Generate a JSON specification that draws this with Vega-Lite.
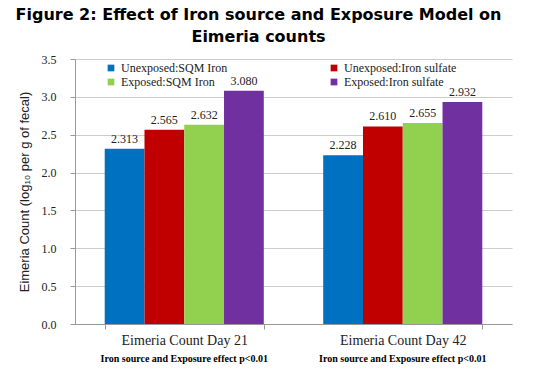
{
  "$schema": "https://vega.github.io/schema/vega-lite/v6.json",
  "width": 437,
  "height": 265,
  "autosize": {"type": "none"},
  "padding": {"left": 75, "top": 59, "right": 22, "bottom": 55},
  "background": "white",
  "title": {
    "text": ["Figure 2: Effect of Iron source and Exposure Model on", "Eimeria counts"],
    "font": "DejaVu Sans",
    "fontSize": 16,
    "fontWeight": "bold",
    "color": "black",
    "anchor": "middle",
    "frame": "group",
    "dx": -35,
    "offset": 8,
    "lineHeight": 22
  },
  "data": {
    "values": [
      {"period": "Eimeria Count Day 21", "group": "Unexposed:SQM Iron", "value": 2.313},
      {"period": "Eimeria Count Day 21", "group": "Unexposed:Iron sulfate", "value": 2.565},
      {"period": "Eimeria Count Day 21", "group": "Exposed:SQM Iron", "value": 2.632},
      {"period": "Eimeria Count Day 21", "group": "Exposed:Iron sulfate", "value": 3.080},
      {"period": "Eimeria Count Day 42", "group": "Unexposed:SQM Iron", "value": 2.228},
      {"period": "Eimeria Count Day 42", "group": "Unexposed:Iron sulfate", "value": 2.610},
      {"period": "Eimeria Count Day 42", "group": "Exposed:SQM Iron", "value": 2.655},
      {"period": "Eimeria Count Day 42", "group": "Exposed:Iron sulfate", "value": 2.932}
    ]
  },
  "config": {"view": {"stroke": null}},
  "layer": [
    {
      "mark": {"type": "bar"},
      "encoding": {
        "x": {
          "field": "period",
          "type": "nominal",
          "sort": ["Eimeria Count Day 21", "Eimeria Count Day 42"],
          "scale": {"paddingInner": 0.272, "paddingOuter": 0.136},
          "axis": {
            "title": null,
            "labelAngle": 0,
            "labelFont": "Liberation Serif",
            "labelFontSize": 14,
            "labelColor": "#222222",
            "tickSize": 5,
            "tickColor": "#999999",
            "domainColor": "#999999",
            "labelPadding": 4,
            "tickBand": "extent",
            "grid": false
          }
        },
        "xOffset": {
          "field": "group",
          "type": "nominal",
          "sort": ["Unexposed:SQM Iron", "Unexposed:Iron sulfate", "Exposed:SQM Iron", "Exposed:Iron sulfate"],
          "scale": {"paddingInner": 0, "paddingOuter": 0}
        },
        "y": {
          "field": "value",
          "type": "quantitative",
          "scale": {"domain": [0, 3.5], "nice": false},
          "axis": {
            "values": [0, 0.5, 1, 1.5, 2, 2.5, 3, 3.5],
            "format": ".1f",
            "labelOverlap": false,
            "labelFont": "Liberation Serif",
            "labelFontSize": 12,
            "labelColor": "#222222",
            "tickSize": 5,
            "tickColor": "#999999",
            "domainColor": "#999999",
            "gridColor": "#cccccc",
            "labelPadding": 14,
            "title": "Eimeria Count (log₁₀ per g of fecal)",
            "titleFont": "Liberation Sans",
            "titleFontSize": 13,
            "titleFontWeight": "normal",
            "titleColor": "#222222",
            "titlePadding": 10
          }
        },
        "color": {
          "field": "group",
          "type": "nominal",
          "sort": ["Unexposed:SQM Iron", "Unexposed:Iron sulfate", "Exposed:SQM Iron", "Exposed:Iron sulfate"],
          "scale": {
            "domain": ["Unexposed:SQM Iron", "Unexposed:Iron sulfate", "Exposed:SQM Iron", "Exposed:Iron sulfate"],
            "range": ["#0070C0", "#C00000", "#92D050", "#7030A0"]
          },
          "legend": {
            "title": null,
            "orient": "none",
            "legendX": 30,
            "legendY": 3,
            "direction": "horizontal",
            "columns": 2,
            "columnPadding": 100,
            "rowPadding": 2,
            "padding": 0,
            "symbolType": "square",
            "symbolSize": 45,
            "symbolStrokeWidth": 0,
            "labelFont": "Liberation Serif",
            "labelFontSize": 12,
            "labelColor": "#222222",
            "labelOffset": 4
          }
        }
      }
    },
    {
      "mark": {"type": "text", "baseline": "bottom", "dy": -3, "font": "Liberation Serif", "fontSize": 12, "color": "#222222"},
      "encoding": {
        "x": {
          "field": "period",
          "type": "nominal",
          "sort": ["Eimeria Count Day 21", "Eimeria Count Day 42"],
          "axis": {
            "orient": "bottom",
            "title": null,
            "labelAngle": 0,
            "labelExpr": "'Iron source and Exposure effect p<0.01'",
            "labelFont": "Liberation Serif",
            "labelFontWeight": "bold",
            "labelFontSize": 10,
            "labelColor": "black",
            "labelPadding": 29,
            "ticks": false,
            "domain": false,
            "grid": false
          }
        },
        "xOffset": {
          "field": "group",
          "type": "nominal",
          "sort": ["Unexposed:SQM Iron", "Unexposed:Iron sulfate", "Exposed:SQM Iron", "Exposed:Iron sulfate"]
        },
        "y": {
          "field": "value",
          "type": "quantitative",
          "axis": {
            "values": [0, 0.5, 1, 1.5, 2, 2.5, 3, 3.5],
            "format": ".1f",
            "labelOverlap": false,
            "labelFont": "Liberation Serif",
            "labelFontSize": 12,
            "labelColor": "#222222",
            "tickSize": 5,
            "tickColor": "#999999",
            "domainColor": "#999999",
            "gridColor": "#cccccc",
            "labelPadding": 14,
            "title": "Eimeria Count (log₁₀ per g of fecal)",
            "titleFont": "Liberation Sans",
            "titleFontSize": 13,
            "titleFontWeight": "normal",
            "titleColor": "#222222",
            "titlePadding": 10
          }
        },
        "text": {"field": "value", "type": "quantitative", "format": ".3f"}
      }
    }
  ],
  "resolve": {"axis": {"x": "independent"}}
}
